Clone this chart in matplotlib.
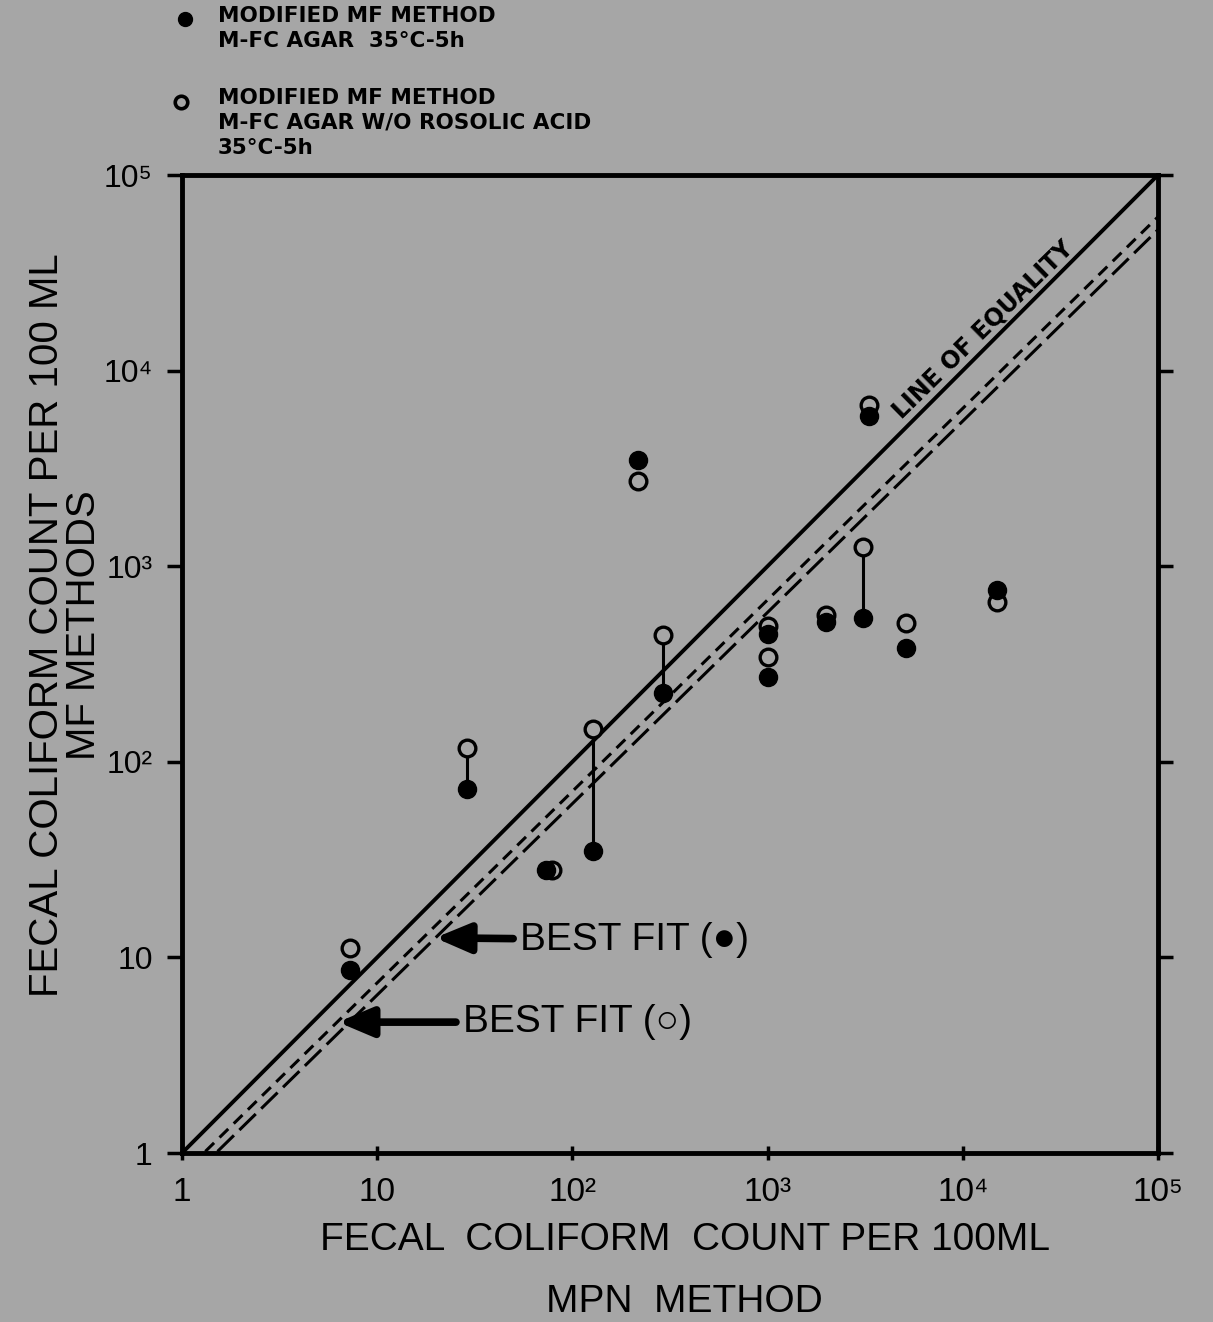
import matplotlib
matplotlib.use("Agg")
import matplotlib.pyplot as plt
import numpy as np

# MPN count (x) and the two modified MF counts (y), per 100 ml
mpn = [7.3, 29, 73, 128, 217, 291, 1000, 1000, 2000, 3080, 3300, 5100, 15000]
mf_filled = [8.6, 73, 28, 35, 3490, 225, 450, 271, 518, 543, 5860, 382, 755]
mf_open = [11.2, 118, 28, 147, 2730, 445, 495, 343, 564, 1254, 6670, 512, 656]
# open marker of the third sample sits slightly to the right
mpn_open = [7.3, 29, 79, 128, 217, 291, 1000, 1000, 2000, 3080, 3300, 5100, 15000]
# pairs joined by a vertical line
joined = [1, 3, 5, 9]

# best fit lines: log y = a + b log x
fit_filled = (-0.17, 0.978)
fit_open = (-0.109, 0.979)

ticks = [1, 10, 100, 1000, 10000, 100000]
tick_labels = ['1', '10', '10²', '10³', '10⁴', '10⁵']

legend_labels = ['MODIFIED MF METHOD\nM-FC AGAR  35°C-5h',
                 'MODIFIED MF METHOD\nM-FC AGAR W/O ROSOLIC ACID\n35°C-5h']

bg = '#a6a6a6'
fam = ['Liberation Sans', 'DejaVu Sans']
fam_bold = ['DejaVu Sans']

W, H = 1213, 1322
fig = plt.figure(figsize=(W / 100, H / 100), dpi=100, facecolor=bg)
ax = fig.add_axes([0.150, 0.1278, 0.8046, 0.7398], facecolor=bg)
ax.set_xscale('log')
ax.set_yscale('log')
ax.set_xlim(1, 1e5)
ax.set_ylim(1, 1e5)

# line of equality and fits
xs = np.array([1.0, 1e5])
ax.plot(xs, xs, color='k', lw=2.8, solid_capstyle='round')
for (a, b), dash in [(fit_filled, (7.5, 2.5)), (fit_open, (4, 2.5))]:
    x0 = 10 ** (-a / b)
    xx = np.array([x0 * 1.02, 1e5])
    ax.plot(xx, 10 ** (a + b * np.log10(xx)), color='k', lw=2.2,
            dashes=dash)

for i in joined:
    ax.plot([mpn[i], mpn[i]], [mf_filled[i], mf_open[i]], color='k', lw=2.2)

ax.plot(mpn_open, mf_open, 'o', ms=12, mfc=bg, mec='k', mew=2.4,
        linestyle='none', zorder=3)
ax.plot(mpn, mf_filled, 'o', ms=13, color='k', linestyle='none', zorder=4)

ax.text(12700, 16300, 'LINE OF EQUALITY', rotation=44.5, ha='center',
        va='center', fontsize=17, fontweight='bold', family=fam_bold)

arrow = dict(arrowstyle='-|>,head_length=1.3,head_width=0.55',
             mutation_scale=16, color='k', lw=5.5, shrinkA=3, shrinkB=0)
ax.annotate('BEST FIT (●)', xy=(19.8, 12.6), xytext=(54, 12.3),
            fontsize=28, va='center', family=fam, arrowprops=arrow)
ax.annotate('BEST FIT (○)', xy=(6.3, 4.67), xytext=(27.5, 4.67),
            fontsize=28, va='center', family=fam, arrowprops=arrow)

ax.set_xticks(ticks)
ax.set_xticklabels(tick_labels, fontsize=24, family=fam)
ax.set_yticks(ticks)
ax.set_yticklabels(tick_labels, fontsize=23, family=fam)
ax.minorticks_off()
ax.tick_params(axis='y', which='major', direction='out', length=11, width=2.5,
               right=True, pad=10)
ax.tick_params(axis='x', which='major', direction='inout', length=10,
               width=2.5, pad=12)
ax.tick_params(labelright=False)
for s in ax.spines.values():
    s.set_linewidth(3.5)

ax.set_xlabel('FECAL  COLIFORM  COUNT PER 100ML\nMPN  METHOD', fontsize=28,
              family=fam, linespacing=1.9)
ax.xaxis.set_label_coords(0.515, -0.071)
ax.set_ylabel('FECAL COLIFORM COUNT PER 100 ML\nMF METHODS', fontsize=29,
              family=fam, linespacing=0.95)
ax.yaxis.set_label_coords(-0.081, 0.54)

# legend drawn at the top of the figure
key_pos = [(185, 19), (181, 102)]
text_top = [6, 88]
for k, (lab, (kx, ky), ty) in enumerate(zip(legend_labels, key_pos, text_top)):
    if k == 0:
        fig.add_artist(plt.Line2D([kx / W], [1 - ky / H], marker='o', ms=10,
                                  color='k', linestyle='none',
                                  transform=fig.transFigure))
    else:
        fig.add_artist(plt.Line2D([kx / W], [1 - ky / H], marker='o', ms=9,
                                  mfc=bg, mec='k', mew=2.6, linestyle='none',
                                  transform=fig.transFigure))
    fig.text(218 / W, 1 - ty / H, lab, ha='left', va='top', fontsize=15.5,
             fontweight='bold', family=fam_bold, linespacing=1.3)

fig.savefig('out.png', dpi=100, facecolor=bg)
